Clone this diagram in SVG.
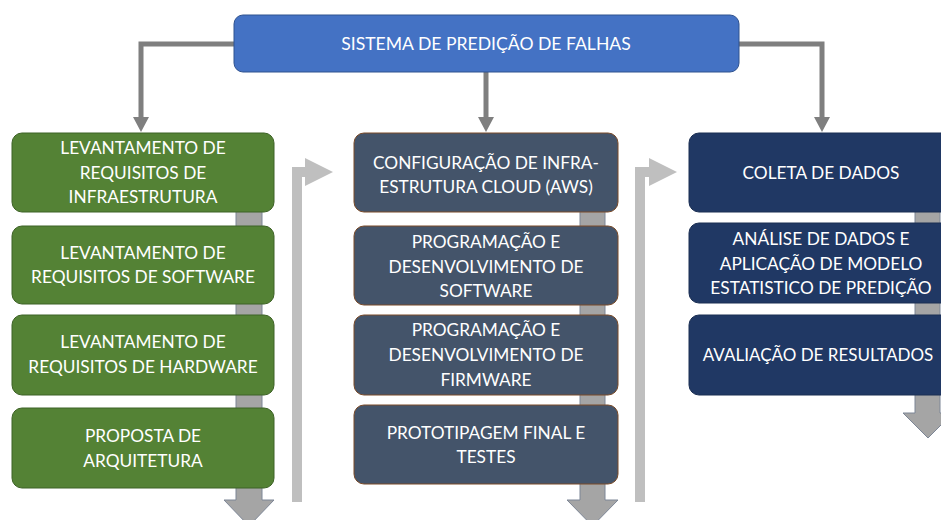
<svg xmlns="http://www.w3.org/2000/svg" width="941" height="520" viewBox="0 0 941 520">
<defs>
<style>
.t{font-family:Lato,"Open Sans","Liberation Sans",sans-serif;font-size:17.3px;fill:#fff;text-anchor:middle}
.g{fill:#548235;stroke:#3d6226;stroke-width:1}
.s{fill:#44546A;stroke:#7a4a28;stroke-width:1}
.n{fill:#203864;stroke:#1a2e52;stroke-width:1}
.top{fill:#4472C4;stroke:#2F528F;stroke-width:1}
.c{fill:none;stroke:#7F7F7F;stroke-width:5}
.bar{fill:#A5A5A5;stroke:#7d8696;stroke-width:1}
.lg{fill:#BFBFBF}
</style>
<marker id="ah" markerUnits="userSpaceOnUse" markerWidth="16" markerHeight="16" viewBox="0 0 16 16" refX="0" refY="8" orient="auto">
<path d="M0,0 L15,8 L0,16 Z" fill="#7F7F7F"/>
</marker>
</defs>
<g id="connectors">
<path class="c" d="M234,44 H141 V117" marker-end="url(#ah)"/>
<path class="c" d="M486,72 V117" marker-end="url(#ah)"/>
<path class="c" d="M739,44 H822 V117" marker-end="url(#ah)"/>
<polygon class="bar" points="236,200 262,200 262,500 274,500 249,526 224,500 236,500"/>
<polygon class="bar" points="580,200 605,200 605,500 618,500 592.5,526 567,500 580,500"/>
<polygon class="bar" points="915,200 940,200 940,413 953,413 928,438 903,413 915,413"/>
<polygon class="lg" points="292,502 292,167 305,167 305,158 333,172 305,186 305,177 302,177 302,502"/>
<polygon class="lg" points="635,502 635,167 649,167 649,158 677,172 649,186 649,177 645,177 645,502"/>
</g>
<g id="n-top"><rect class="top" x="234" y="15" width="505" height="57" rx="9"/><text class="t" x="486" y="50" style="font-size:17.6px">SISTEMA DE PREDIÇÃO DE FALHAS</text></g>
<g id="n-l1"><rect class="g" x="12" y="133" width="262" height="79" rx="10"/><text class="t" x="143" y="154">LEVANTAMENTO DE</text><text class="t" x="143" y="179">REQUISITOS DE</text><text class="t" x="143" y="203">INFRAESTRUTURA</text></g>
<g id="n-l2"><rect class="g" x="12" y="226" width="262" height="78" rx="10"/><text class="t" x="143" y="259">LEVANTAMENTO DE</text><text class="t" x="143" y="283">REQUISITOS DE SOFTWARE</text></g>
<g id="n-l3"><rect class="g" x="12" y="315" width="262" height="80" rx="10"/><text class="t" x="143" y="348">LEVANTAMENTO DE</text><text class="t" x="143" y="373">REQUISITOS DE HARDWARE</text></g>
<g id="n-l4"><rect class="g" x="12" y="408" width="262" height="80" rx="10"/><text class="t" x="143" y="442">PROPOSTA DE</text><text class="t" x="143" y="467">ARQUITETURA</text></g>
<g id="n-m1"><rect class="s" x="354" y="133" width="264" height="79" rx="10"/><text class="t" x="486" y="169">CONFIGURAÇÃO DE INFRA-</text><text class="t" x="486" y="193">ESTRUTURA CLOUD (AWS)</text></g>
<g id="n-m2"><rect class="s" x="354" y="226" width="264" height="79" rx="10"/><text class="t" x="486" y="248">PROGRAMAÇÃO E</text><text class="t" x="486" y="273">DESENVOLVIMENTO DE</text><text class="t" x="486" y="297">SOFTWARE</text></g>
<g id="n-m3"><rect class="s" x="354" y="315" width="264" height="80" rx="10"/><text class="t" x="486" y="336">PROGRAMAÇÃO E</text><text class="t" x="486" y="361">DESENVOLVIMENTO DE</text><text class="t" x="486" y="386">FIRMWARE</text></g>
<g id="n-m4"><rect class="s" x="354" y="405" width="264" height="79" rx="10"/><text class="t" x="486" y="439">PROTOTIPAGEM FINAL E</text><text class="t" x="486" y="463">TESTES</text></g>
<g id="n-r1"><rect class="n" x="689" y="133" width="264" height="79" rx="10"/><text class="t" x="821" y="179">COLETA DE DADOS</text></g>
<g id="n-r2"><rect class="n" x="689" y="223" width="264" height="80" rx="10"/><text class="t" x="821" y="245">ANÁLISE DE DADOS E</text><text class="t" x="821" y="270">APLICAÇÃO DE MODELO</text><text class="t" x="821" y="294">ESTATISTICO DE PREDIÇÃO</text></g>
<g id="n-r3"><rect class="n" x="689" y="315" width="264" height="80" rx="10"/><text class="t" x="818" y="361" style="font-size:17px">AVALIAÇÃO DE RESULTADOS</text></g>
</svg>
